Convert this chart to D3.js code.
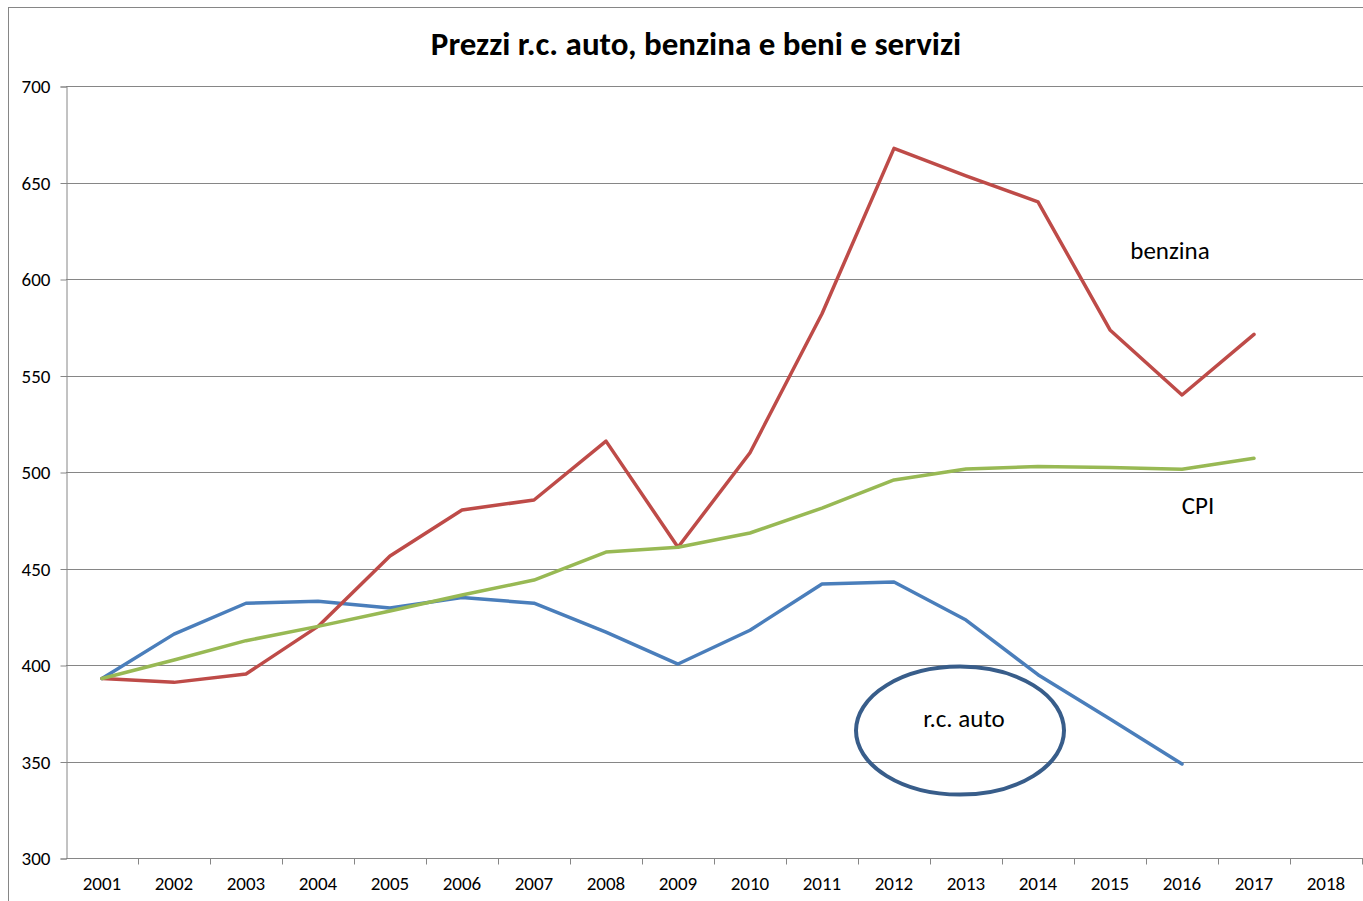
<!DOCTYPE html>
<html>
<head>
<meta charset="utf-8">
<script src="https://cdn.jsdelivr.net/npm/d3@7"></script>
<style>
  body { margin: 0; background: #fff; }
  svg text { font-family: Carlito, Calibri, Lato, "Open Sans", sans-serif; fill: #000; }
</style>
</head>
<body>
<svg id="chart" width="1363" height="901"></svg>
<script>
// data
const years = ['2001','2002','2003','2004','2005','2006','2007','2008','2009',
               '2010','2011','2012','2013','2014','2015','2016','2017','2018'];
const rcAuto  = [393, 416, 432, 433, 429.5, 435, 432, 417, 400.5, 418, 442, 443, 423.3, 395, 372, 348.7];
const benzina = [393, 391, 395.3, 420, 456.5, 480.3, 485.5, 516, 461, 510, 582, 667.7, 653.4, 640, 573.6, 539.9, 571.3];
const cpi     = [393, 402.6, 412.6, 420, 428, 436.3, 444, 458.5, 461, 468.4, 481.3, 495.9, 501.6, 502.8, 502.3, 501.4, 507.1];
const yTicks  = [300, 350, 400, 450, 500, 550, 600, 650, 700];

const series = [
  { name: 'r.c. auto', values: rcAuto,  color: '#4a7ebb' },
  { name: 'benzina',   values: benzina, color: '#be4b48' },
  { name: 'CPI',       values: cpi,     color: '#98b954' }
];

const svg = d3.select('#chart');
const m = { top: 86, right: 1363, bottom: 858, left: 66 };

// outer chart border
svg.append('rect')
  .attr('x', 8.5).attr('y', 7.5)
  .attr('width', 1400).attr('height', 1000)
  .attr('fill', 'none')
  .attr('stroke', '#868686')
  .attr('stroke-width', 1);

const x = d3.scaleBand()
  .domain(years)
  .range([m.left, m.left + 72 * years.length]);

const y = d3.scaleLinear()
  .domain([300, 700])
  .range([m.bottom, m.top]);

// gridlines
svg.append('g')
  .selectAll('line')
  .data(yTicks.filter(d => d > 300))
  .join('line')
    .attr('x1', m.left).attr('x2', m.right)
    .attr('y1', d => Math.round(y(d)) + 0.5)
    .attr('y2', d => Math.round(y(d)) + 0.5)
    .attr('stroke', '#868686')
    .attr('stroke-width', 1);

// y axis
const yAxis = svg.append('g')
  .attr('transform', `translate(${m.left + 0.5},0.5)`)
  .call(d3.axisLeft(y).tickValues(yTicks).tickSize(6).tickPadding(10));
yAxis.select('.domain').attr('stroke', '#868686');
yAxis.selectAll('.tick line').attr('stroke', '#868686');
yAxis.selectAll('.tick text').style('font-size', '19px');

// x axis, ticks on category boundaries
const xAxis = svg.append('g')
  .attr('transform', `translate(0,${m.bottom + 0.5})`);
xAxis.append('line')
  .attr('x1', m.left).attr('x2', m.right)
  .attr('stroke', '#868686');
xAxis.selectAll('line.tk')
  .data(years)
  .join('line')
    .attr('class', 'tk')
    .attr('x1', d => Math.round(x(d) + x.bandwidth()) + 0.5)
    .attr('x2', d => Math.round(x(d) + x.bandwidth()) + 0.5)
    .attr('y1', 0).attr('y2', 6)
    .attr('stroke', '#868686');
xAxis.selectAll('text')
  .data(years)
  .join('text')
    .attr('x', d => x(d) + x.bandwidth() / 2)
    .attr('y', 31)
    .attr('text-anchor', 'middle')
    .style('font-size', '19px')
    .text(d => d);

// lines
const line = d3.line()
  .x((d, i) => x(years[i]) + x.bandwidth() / 2)
  .y(d => y(d));

series.forEach(s => {
  svg.append('path')
    .datum(s.values)
    .attr('fill', 'none')
    .attr('stroke', s.color)
    .attr('stroke-width', 3.5)
    .attr('stroke-linejoin', 'round')
    .attr('stroke-linecap', 'round')
    .attr('d', line);
});

// title
svg.append('text')
  .attr('x', 696).attr('y', 55)
  .attr('text-anchor', 'middle')
  .style('font-size', '33px')
  .style('font-weight', 'bold')
  .text('Prezzi r.c. auto, benzina e beni e servizi');

// annotations
svg.append('text')
  .attr('x', 1170).attr('y', 259)
  .attr('text-anchor', 'middle')
  .style('font-size', '25px')
  .text('benzina');

svg.append('text')
  .attr('x', 1198).attr('y', 514)
  .attr('text-anchor', 'middle')
  .style('font-size', '25px')
  .text('CPI');

svg.append('ellipse')
  .attr('cx', x('2013') + x.bandwidth() / 2 - 6)
  .attr('cy', y(366))
  .attr('rx', 104).attr('ry', 64)
  .attr('fill', 'none')
  .attr('stroke', '#385d8a')
  .attr('stroke-width', 4);

svg.append('text')
  .attr('x', 964).attr('y', 727)
  .attr('text-anchor', 'middle')
  .style('font-size', '25px')
  .text('r.c. auto');
</script>
</body>
</html>
